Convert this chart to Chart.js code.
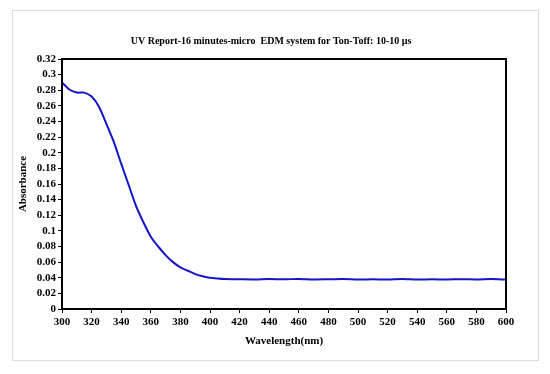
<!DOCTYPE html>
<html>
<head>
<meta charset="utf-8">
<script src="https://cdn.jsdelivr.net/npm/chart.js@4/dist/chart.umd.min.js"></script>
<style>
    html, body { margin: 0; padding: 0; background: #fff; }
    #box { position: absolute; left: 12px; top: 10px; width: 525px; height: 349px; border: 1px solid #dcdcdc; }
    #wrap { position: absolute; left: 0; top: 0; width: 550px; height: 374px; }
</style>
</head>
<body>
<div id="box"></div>
<div id="wrap"><canvas id="uvChart"></canvas></div>
<script>
// wavelength (nm) and absorbance
var wavelengths = [300, 305, 310, 315, 320, 325, 330, 335, 340, 345, 350, 355, 360, 365, 370, 375, 380, 385, 390, 395, 400, 405, 410,
    420, 430, 440, 450, 460, 470, 480, 490, 500, 510, 520, 530, 540, 550, 560, 570, 580, 590, 600];
var absorbance = [0.290, 0.281, 0.277, 0.277, 0.272, 0.259, 0.237, 0.214, 0.186, 0.159, 0.132, 0.111, 0.0925, 0.080, 0.069, 0.060, 0.0533, 0.049, 0.0447, 0.042, 0.040, 0.039, 0.0383,
    0.038, 0.0378, 0.0383, 0.038, 0.0385, 0.0378, 0.038, 0.0383, 0.0378, 0.038, 0.0378, 0.0383, 0.0377, 0.038, 0.0378, 0.0382, 0.0378, 0.0383, 0.0377];
var xTicks = [300, 320, 340, 360, 380, 400, 420, 440, 460, 480, 500, 520, 540, 560, 580, 600];
var yTicks = [0, 0.02, 0.04, 0.06, 0.08, 0.1, 0.12, 0.14, 0.16, 0.18, 0.2, 0.22, 0.24, 0.26, 0.28, 0.3, 0.32];
var chartTitle = 'UV Report-16 minutes-micro  EDM system for Ton-Toff: 10-10 \u03bcs';

var serif = "'Liberation Serif', 'Times New Roman', serif";

var points = wavelengths.map(function (w, i) {
    return { x: w, y: absorbance[i] };
});

// black frame round the plot area, plus the title a bit left of centre as in the report
var framePlugin = {
    id: 'frame',
    afterDraw: function (chart) {
        var a = chart.chartArea, ctx = chart.ctx;
        ctx.save();
        ctx.strokeStyle = '#000';
        ctx.lineWidth = 2;
        ctx.strokeRect(a.left, a.top, a.right - a.left, a.bottom - a.top);
        ctx.fillStyle = '#000';
        ctx.font = 'bold 10px ' + serif;
        ctx.textAlign = 'center';
        ctx.textBaseline = 'middle';
        ctx.fillText(chartTitle, (a.left + a.right) / 2 - 13, a.top - 18);
        ctx.restore();
    }
};

new Chart(document.getElementById('uvChart'), {
    type: 'line',
    data: {
        datasets: [{
            data: points,
            borderColor: '#1414c8',
            borderWidth: 2,
            pointRadius: 0,
            tension: 0.25,
            fill: false
        }]
    },
    options: {
        responsive: true,
        maintainAspectRatio: false,
        animation: false,
        layout: { padding: { left: 17, right: 44, top: 59, bottom: 26 } },
        plugins: {
            legend: { display: false },
            tooltip: { enabled: false },
            title: { display: false }
        },
        scales: {
            x: {
                type: 'linear',
                min: 300,
                max: 600,
                afterBuildTicks: function (axis) {
                    axis.ticks = xTicks.map(function (v) { return { value: v }; });
                },
                afterFit: function (axis) { axis.height = 39; },
                grid: { drawOnChartArea: false, drawTicks: true, tickLength: 4, color: '#000', lineWidth: 1 },
                border: { display: true, color: '#000', width: 2 },
                ticks: { color: '#000', font: { family: serif, size: 11, weight: 'bold' }, maxRotation: 0, autoSkip: false, padding: 3 },
                title: { display: true, text: 'Wavelength(nm)', color: '#000', font: { family: serif, size: 11, weight: 'bold' }, padding: { top: 2, bottom: 0 } }
            },
            y: {
                min: 0,
                max: 0.32,
                afterBuildTicks: function (axis) {
                    axis.ticks = yTicks.map(function (v) { return { value: v }; });
                },
                afterFit: function (axis) { axis.width = 45; },
                grid: { drawOnChartArea: false, drawTicks: true, tickLength: 4, color: '#000', lineWidth: 1 },
                border: { display: true, color: '#000', width: 2 },
                ticks: {
                    color: '#000', font: { family: serif, size: 11, weight: 'bold' }, autoSkip: false, padding: 2,
                    callback: function (v) { return String(Math.round(v * 100) / 100); }
                },
                title: { display: true, text: 'Absorbance', color: '#000', font: { family: serif, size: 11, weight: 'bold' }, padding: { top: 0, bottom: 0 } }
            }
        }
    },
    plugins: [framePlugin]
});
</script>
</body>
</html>
